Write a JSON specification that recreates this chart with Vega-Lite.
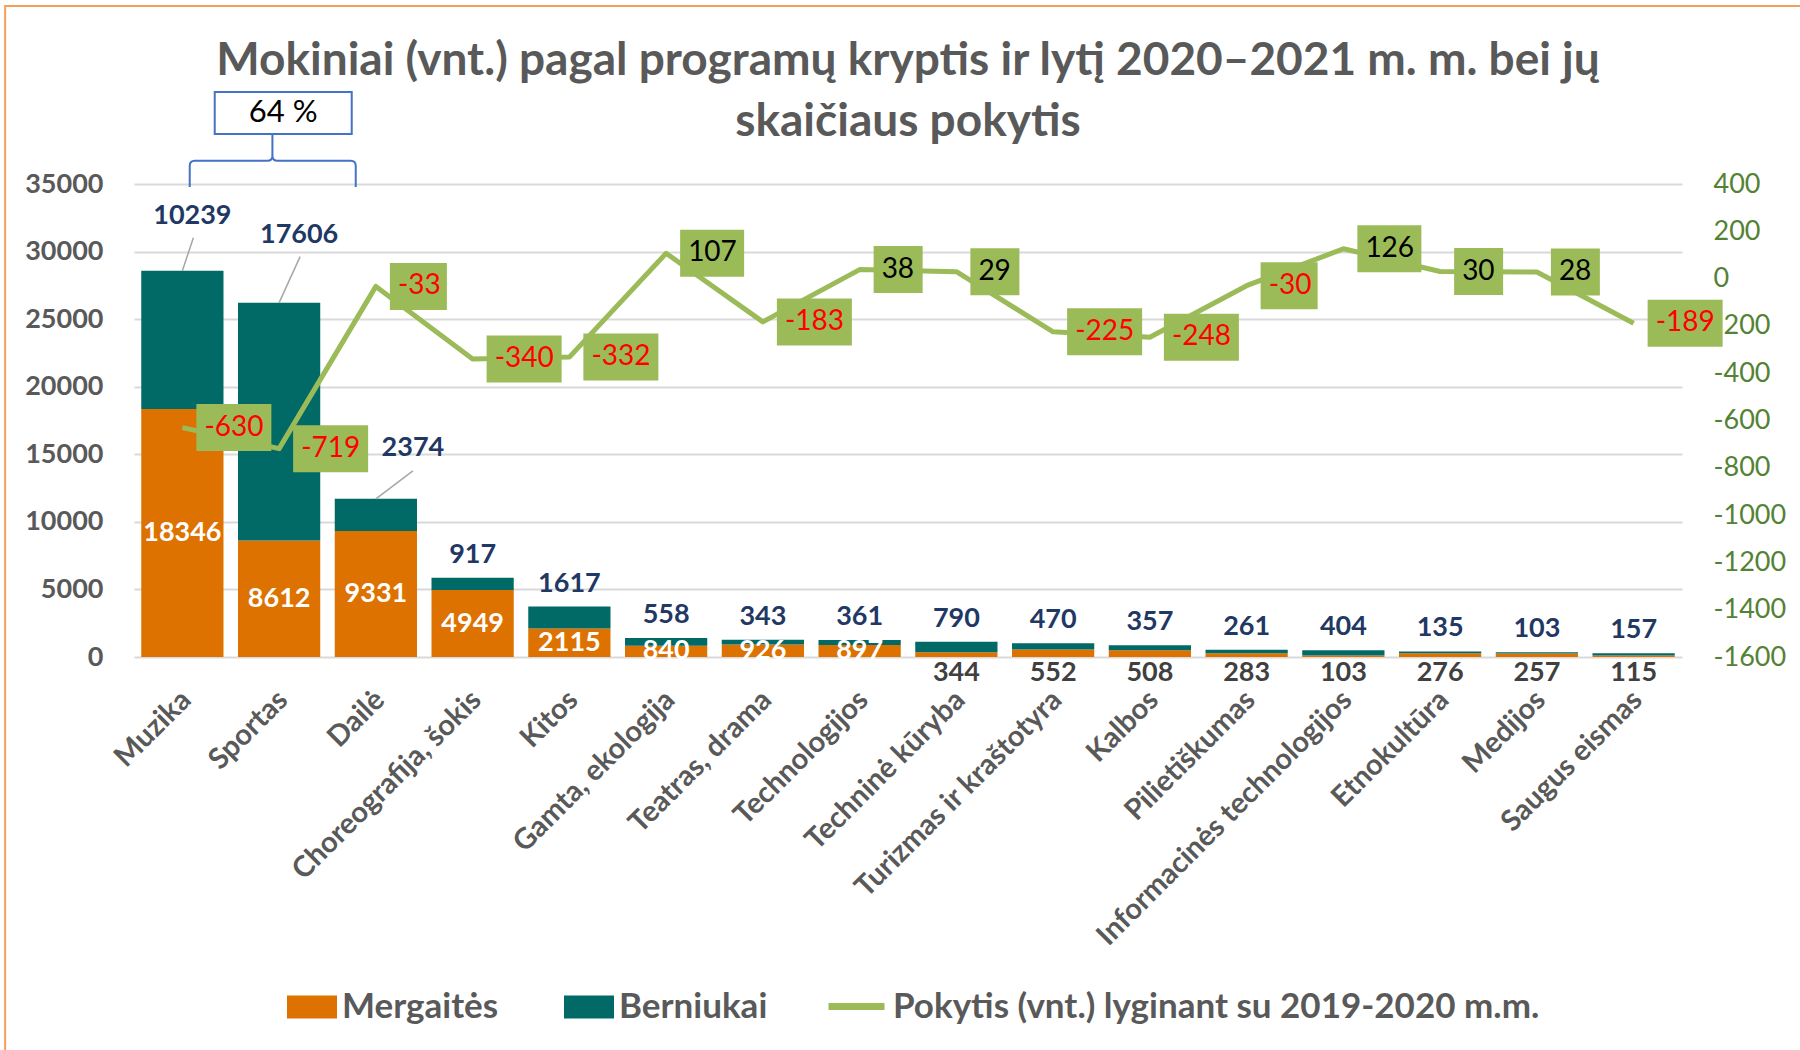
{
  "$schema": "https://vega.github.io/schema/vega-lite/v6.json",
  "width": 1548,
  "height": 473,
  "autosize": {"type": "none"},
  "padding": {"left": 134, "top": 184, "right": 118, "bottom": 393},
  "background": "white",
  "config": {"view": {"stroke": null}, "font": "Lato"},
  "title": {
    "text": ["Mokiniai (vnt.) pagal programų kryptis ir lytį 2020–2021 m. m. bei jų", "skaičiaus pokytis"],
    "font": "Lato", "fontSize": 46, "fontWeight": "bold", "color": "#595959",
    "anchor": "middle", "frame": "group", "offset": 0, "dy": 144, "lineHeight": 61
  },
  "datasets": {
    "main": [
      {"cat": "Muzika", "Mergaitės": 18346, "Berniukai": 10239, "Pokytis": -630},
      {"cat": "Sportas", "Mergaitės": 8612, "Berniukai": 17606, "Pokytis": -719},
      {"cat": "Dailė", "Mergaitės": 9331, "Berniukai": 2374, "Pokytis": -33},
      {"cat": "Choreografija, šokis", "Mergaitės": 4949, "Berniukai": 917, "Pokytis": -340},
      {"cat": "Kitos", "Mergaitės": 2115, "Berniukai": 1617, "Pokytis": -332},
      {"cat": "Gamta, ekologija", "Mergaitės": 840, "Berniukai": 558, "Pokytis": 107},
      {"cat": "Teatras, drama", "Mergaitės": 926, "Berniukai": 343, "Pokytis": -183},
      {"cat": "Technologijos", "Mergaitės": 897, "Berniukai": 361, "Pokytis": 38},
      {"cat": "Techninė kūryba", "Mergaitės": 344, "Berniukai": 790, "Pokytis": 29},
      {"cat": "Turizmas ir kraštotyra", "Mergaitės": 552, "Berniukai": 470, "Pokytis": -225},
      {"cat": "Kalbos", "Mergaitės": 508, "Berniukai": 357, "Pokytis": -248},
      {"cat": "Pilietiškumas", "Mergaitės": 283, "Berniukai": 261, "Pokytis": -30},
      {"cat": "Informacinės technologijos", "Mergaitės": 103, "Berniukai": 404, "Pokytis": 126},
      {"cat": "Etnokultūra", "Mergaitės": 276, "Berniukai": 135, "Pokytis": 30},
      {"cat": "Medijos", "Mergaitės": 257, "Berniukai": 103, "Pokytis": 28},
      {"cat": "Saugus eismas", "Mergaitės": 115, "Berniukai": 157, "Pokytis": -189}
    ],
    "note": [{"cat": "Sportas", "note": "64 %"}]
  },
  "data": {"name": "main"},
  "encoding": {
    "x": {
      "field": "cat", "type": "nominal", "title": null,
      "scale": {
        "type": "band", "paddingInner": 0.15, "paddingOuter": 0.075,
        "domain": ["Muzika", "Sportas", "Dailė", "Choreografija, šokis", "Kitos", "Gamta, ekologija", "Teatras, drama", "Technologijos", "Techninė kūryba", "Turizmas ir kraštotyra", "Kalbos", "Pilietiškumas", "Informacinės technologijos", "Etnokultūra", "Medijos", "Saugus eismas"]
      },
      "axis": {
        "orient": "bottom", "labelAngle": -45, "domain": false, "ticks": false, "grid": false,
        "labelFont": "Lato", "labelFontSize": 29, "labelFontWeight": "bold", "labelColor": "#595959",
        "labelPadding": 28, "labelOffset": -6, "labelLimit": 600, "title": null
      }
    }
  },
  "layer": [
    {
      "transform": [
        {"calculate": "datum['Mergaitės'] + datum['Berniukai']", "as": "total"},
        {"calculate": "datum['Mergaitės'] / 2", "as": "mid"}
      ],
      "layer": [
        {
          "transform": [
            {"fold": ["Mergaitės", "Berniukai"], "as": ["sex", "n"]},
            {"calculate": "datum.sex === 'Mergaitės' ? 0 : 1", "as": "ord"}
          ],
          "mark": {"type": "bar"},
          "encoding": {
            "y": {
              "field": "n", "type": "quantitative", "stack": "zero", "title": null,
              "scale": {"domain": [0, 35000], "nice": false},
              "axis": {
                "orient": "left", "values": [0, 5000, 10000, 15000, 20000, 25000, 30000, 35000],
                "labelExpr": "'' + datum.value",
                "grid": true, "gridColor": "#D9D9D9", "gridWidth": 2, "domain": false, "ticks": false,
                "labelFont": "Lato", "labelFontSize": 27, "labelFontWeight": "bold", "labelColor": "#595959",
                "labelPadding": 31, "title": null
              }
            },
            "color": {
              "field": "sex", "type": "nominal",
              "scale": {"domain": ["Mergaitės", "Berniukai"], "range": ["#DE7200", "#016A66"]},
              "legend": {
                "orient": "none", "legendX": 153, "legendY": 798, "direction": "horizontal", "title": null,
                "symbolType": "M -1 -0.46 H 1 V 0.46 H -1 Z", "symbolSize": 2500, "symbolStrokeWidth": 0,
                "labelFont": "Lato", "labelFontSize": 35, "labelFontWeight": "bold", "labelColor": "#595959",
                "labelOffset": 5, "columnPadding": 65, "padding": 0, "labelLimit": 1000
              }
            },
            "order": {"field": "ord", "type": "quantitative"}
          }
        },
        {
          "transform": [{"filter": "datum['Mergaitės'] >= 600"}],
          "mark": {"type": "text", "color": "white", "font": "Lato", "fontSize": 27, "fontWeight": "bold", "baseline": "middle"},
          "encoding": {
            "y": {"field": "mid", "type": "quantitative", "title": null},
            "text": {"field": "Mergaitės", "type": "nominal"}
          }
        },
        {
          "transform": [{"filter": "datum['Mergaitės'] < 600"}],
          "mark": {"type": "text", "color": "#404040", "font": "Lato", "fontSize": 27, "fontWeight": "bold", "baseline": "middle", "dy": 16},
          "encoding": {
            "y": {"datum": 0, "type": "quantitative"},
            "text": {"field": "Mergaitės", "type": "nominal"}
          }
        },
        {
          "transform": [{"filter": "datum.cat !== 'Muzika' && datum.cat !== 'Sportas' && datum.cat !== 'Dailė'"}],
          "mark": {"type": "text", "color": "#1F3864", "font": "Lato", "fontSize": 27, "fontWeight": "bold", "baseline": "middle", "dy": -23},
          "encoding": {
            "y": {"field": "total", "type": "quantitative", "title": null},
            "text": {"field": "Berniukai", "type": "nominal"}
          }
        },
        {
          "transform": [{"filter": "datum.cat === 'Muzika'"}],
          "mark": {"type": "text", "color": "#1F3864", "font": "Lato", "fontSize": 27, "fontWeight": "bold", "baseline": "middle", "dx": 10, "dy": -55},
          "encoding": {
            "y": {"field": "total", "type": "quantitative", "title": null},
            "text": {"field": "Berniukai", "type": "nominal"}
          }
        },
        {
          "transform": [{"filter": "datum.cat === 'Sportas'"}],
          "mark": {"type": "text", "color": "#1F3864", "font": "Lato", "fontSize": 27, "fontWeight": "bold", "baseline": "middle", "dx": 20, "dy": -68},
          "encoding": {
            "y": {"field": "total", "type": "quantitative", "title": null},
            "text": {"field": "Berniukai", "type": "nominal"}
          }
        },
        {
          "transform": [{"filter": "datum.cat === 'Dailė'"}],
          "mark": {"type": "text", "color": "#1F3864", "font": "Lato", "fontSize": 27, "fontWeight": "bold", "baseline": "middle", "dx": 37, "dy": -51},
          "encoding": {
            "y": {"field": "total", "type": "quantitative", "title": null},
            "text": {"field": "Berniukai", "type": "nominal"}
          }
        },
        {
          "transform": [{"filter": "datum.cat === 'Muzika'"}],
          "mark": {"type": "rule", "color": "#A6A6A6", "strokeWidth": 1.5, "x2Offset": 11, "y2Offset": -33},
          "encoding": {
            "y": {"field": "total", "type": "quantitative", "title": null},
            "x2": {"field": "cat"},
            "y2": {"field": "total"}
          }
        },
        {
          "transform": [{"filter": "datum.cat === 'Sportas'"}],
          "mark": {"type": "rule", "color": "#A6A6A6", "strokeWidth": 1.5, "x2Offset": 21, "y2Offset": -46},
          "encoding": {
            "y": {"field": "total", "type": "quantitative", "title": null},
            "x2": {"field": "cat"},
            "y2": {"field": "total"}
          }
        },
        {
          "transform": [{"filter": "datum.cat === 'Dailė'"}],
          "mark": {"type": "rule", "color": "#A6A6A6", "strokeWidth": 1.5, "x2Offset": 37, "y2Offset": -28},
          "encoding": {
            "y": {"field": "total", "type": "quantitative", "title": null},
            "x2": {"field": "cat"},
            "y2": {"field": "total"}
          }
        },
        {
          "data": {"name": "note"},
          "mark": {"type": "point", "filled": false, "opacity": 1, "size": 4, "stroke": "#F5A05A", "strokeWidth": 2,
                   "shape": "M -274 870 V -178 H 1530"},
          "encoding": {"y": {"datum": 35000, "type": "quantitative"}}
        },
        {
          "data": {"name": "note"},
          "mark": {"type": "point", "filled": false, "opacity": 1, "size": 4, "stroke": "#4472C4", "strokeWidth": 2,
                   "shape": "M -89.4 3 V -18.3 Q -89.4 -23.3 -84.4 -23.3 H -11.7 Q -6.7 -23.3 -6.7 -28.3 V -50 M -6.7 -28.3 Q -6.7 -23.3 -1.7 -23.3 H 71.6 Q 76.6 -23.3 76.6 -18.3 V 3"},
          "encoding": {"y": {"datum": 35000, "type": "quantitative"}}
        },
        {
          "data": {"name": "note"},
          "mark": {"type": "point", "filled": true, "opacity": 1, "size": 4, "fill": "white", "stroke": "#4472C4", "strokeWidth": 2,
                   "shape": "M -64.4 -92 H 72.6 V -50 H -64.4 Z"},
          "encoding": {"y": {"datum": 35000, "type": "quantitative"}}
        },
        {
          "data": {"name": "note"},
          "mark": {"type": "text", "color": "black", "font": "Lato", "fontSize": 31, "baseline": "middle", "dx": 4, "dy": -71},
          "encoding": {
            "y": {"datum": 35000, "type": "quantitative"},
            "text": {"field": "note", "type": "nominal"}
          }
        }
      ]
    },
    {
      "layer": [
        {
          "mark": {"type": "line", "strokeWidth": 5, "strokeJoin": "round"},
          "encoding": {
            "y": {
              "field": "Pokytis", "type": "quantitative", "title": null,
              "scale": {"domain": [-1600, 400], "nice": false},
              "axis": {
                "orient": "right", "values": [-1600, -1400, -1200, -1000, -800, -600, -400, -200, 0, 200, 400],
                "labelExpr": "'' + datum.value",
                "grid": false, "domain": false, "ticks": false,
                "labelFont": "Lato", "labelFontSize": 27, "labelColor": "#548235", "labelPadding": 31, "title": null
              }
            },
            "stroke": {
              "datum": "Pokytis (vnt.) lyginant su 2019-2020 m.m.", "type": "nominal",
              "scale": {"range": ["#9BBB59"]},
              "legend": {
                "orient": "none", "legendX": 691, "legendY": 791, "title": null,
                "symbolType": "stroke", "symbolSize": 3136, "symbolStrokeWidth": 7,
                "labelFont": "Lato", "labelFontSize": 35, "labelFontWeight": "bold", "labelColor": "#595959",
                "labelOffset": 5, "padding": 0, "labelLimit": 1000
              }
            }
          }
        },
        {
          "mark": {"type": "point", "filled": true, "opacity": 1, "size": 4, "color": "#9BBB59", "strokeWidth": 0},
          "encoding": {
            "y": {"field": "Pokytis", "type": "quantitative", "title": null},
            "shape": {
              "condition": [
                {"test": "datum.Pokytis <= -100", "value": "M 14 -23.5 H 89 V 23.5 H 14 Z"},
                {"test": "datum.Pokytis < 0", "value": "M 14 -23.5 H 71 V 23.5 H 14 Z"},
                {"test": "datum.Pokytis >= 100", "value": "M 14 -23.5 H 78 V 23.5 H 14 Z"}
              ],
              "value": "M 14 -23.5 H 63 V 23.5 H 14 Z"
            }
          }
        },
        {
          "mark": {"type": "text", "font": "Lato", "fontSize": 28, "align": "left", "baseline": "middle", "dx": 22},
          "encoding": {
            "y": {"field": "Pokytis", "type": "quantitative", "title": null},
            "text": {"field": "Pokytis", "type": "nominal"},
            "color": {"condition": {"test": "datum.Pokytis < 0", "value": "#FF0000"}, "value": "#000000"}
          }
        }
      ]
    }
  ],
  "resolve": {"scale": {"y": "independent"}}
}
